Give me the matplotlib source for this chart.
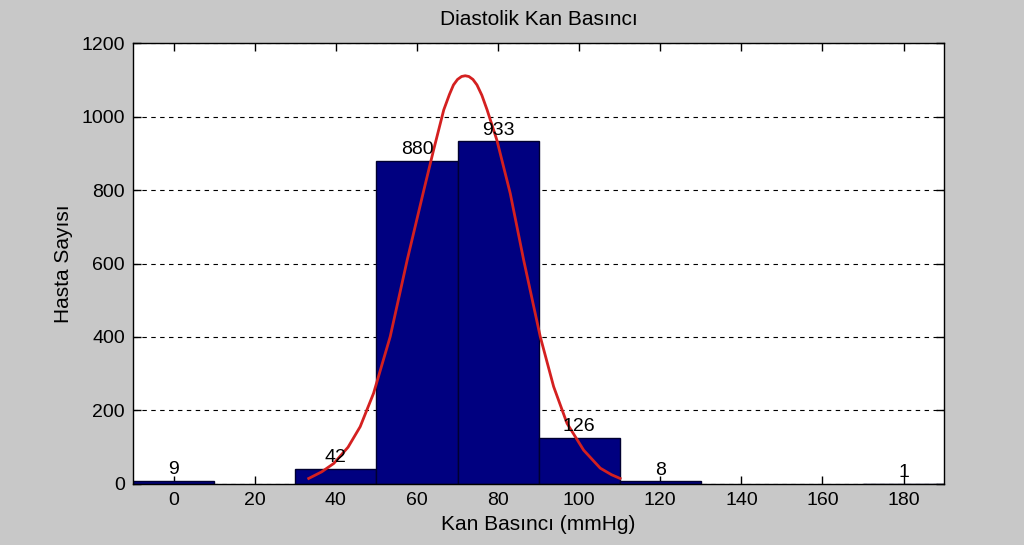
import matplotlib
matplotlib.use("Agg")
import matplotlib.pyplot as plt

# Histogram bins (centres) and patient counts
bin_centers = [0, 40, 60, 80, 100, 120, 180]
counts = [9, 42, 880, 933, 126, 8, 1]

# Normal fit curve
fit_x = [33.3, 36.5, 39.5, 43.0, 46.0, 49.3, 53.4, 57.6, 61.7, 64.1, 66.6, 68.0,
         69.0, 70.0, 71.0, 71.9, 72.8, 73.8, 74.8, 76.0, 77.3, 79.7, 83.0, 86.3,
         90.4, 93.7, 97.0, 101.1, 105.2, 108.0, 110.1]
fit_y = [15, 33, 56, 100, 156, 247, 401, 610, 800, 909, 1018, 1060,
         1086, 1101, 1109, 1111, 1109, 1101, 1086, 1058, 1018, 936, 791, 610,
         401, 265, 165, 92, 43, 25, 15]

xticks = [0, 20, 40, 60, 80, 100, 120, 140, 160, 180]
yticks = [0, 200, 400, 600, 800, 1000, 1200]

plt.rcParams["font.family"] = ["Liberation Sans", "DejaVu Sans"]
plt.rcParams["font.size"] = 14

fig = plt.figure(figsize=(10.24, 5.45), dpi=100, facecolor="#c8c8c8")
ax = fig.add_axes([0.130, 0.112, 0.792, 0.809])

ax.bar(bin_centers, counts, width=20, color="#000080", edgecolor="#000030", linewidth=1)
ax.plot(fit_x, fit_y, color="#d42020", linewidth=2)

for x, c in zip(bin_centers, counts):
    ax.text(x, c + 6, str(c), ha="center", va="bottom", fontsize=14)

ax.set_xlim(-10, 190)
ax.set_ylim(0, 1200)
ax.set_xticks(xticks)
ax.set_yticks(yticks)
ax.yaxis.grid(True, linestyle=(0, (4, 4)), color="black", linewidth=0.8)
ax.set_axisbelow(True)
ax.tick_params(direction="in", top=True, right=True, length=6, width=1, pad=6)
for s in ax.spines.values():
    s.set_linewidth(1)

ax.set_title("Diastolik Kan Basıncı", fontsize=15, pad=13)
ax.set_xlabel("Kan Basıncı (mmHg)", fontsize=15, labelpad=4)
ax.set_ylabel("Hasta Sayısı", fontsize=15, labelpad=6)

fig.savefig("out.png", dpi=100, facecolor=fig.get_facecolor())
